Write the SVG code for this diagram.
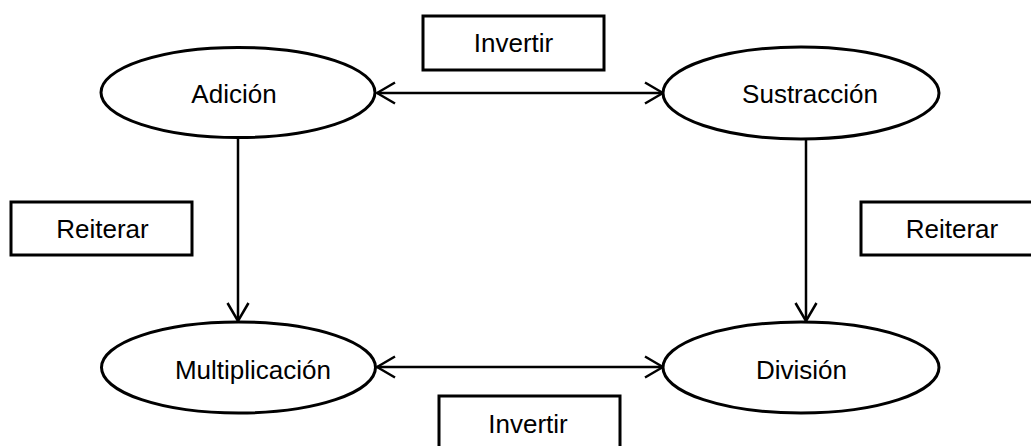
<svg xmlns="http://www.w3.org/2000/svg" width="1031" height="446" viewBox="0 0 1031 446">
<defs>
<style>
.node ellipse{fill:#fff;stroke:#000;stroke-width:3}
.lab rect{fill:#fff;stroke:#000;stroke-width:3}
text{font-family:"Liberation Sans",Arial,sans-serif;font-size:26px;fill:#000;text-anchor:middle}
.conn line{stroke:#000;stroke-width:2.5;fill:none}
</style>
<marker id="ah" viewBox="0 0 20 24" refX="19" refY="12" markerWidth="20" markerHeight="24" markerUnits="userSpaceOnUse" orient="auto-start-reverse">
<path d="M1,1.5 L19,12 L1,22.5" fill="none" stroke="#000" stroke-width="2.5" stroke-linejoin="miter"/>
</marker>
</defs>
<rect width="1031" height="446" fill="#fff"/>
<g class="conn" id="connectors">
<line x1="377" y1="93" x2="663" y2="93" marker-start="url(#ah)" marker-end="url(#ah)"/>
<line x1="377" y1="367" x2="663" y2="367" marker-start="url(#ah)" marker-end="url(#ah)"/>
<line x1="238" y1="138" x2="238" y2="321" marker-end="url(#ah)"/>
<line x1="806" y1="138" x2="806" y2="321" marker-end="url(#ah)"/>
</g>
<g class="node" id="adicion"><ellipse cx="238" cy="92.5" rx="137" ry="45"/><text x="234" y="103">Adición</text></g>
<g class="node" id="sustraccion"><ellipse cx="801" cy="93" rx="138" ry="46"/><text x="810" y="103">Sustracción</text></g>
<g class="node" id="multiplicacion"><ellipse cx="238.5" cy="367.5" rx="137" ry="45.5"/><text x="253" y="379">Multiplicación</text></g>
<g class="node" id="division"><ellipse cx="801" cy="367.5" rx="138" ry="45.5"/><text x="801.5" y="379">División</text></g>
<g class="lab" id="invertir-top"><rect x="423" y="16" width="181" height="54"/><text x="513.5" y="52">Invertir</text></g>
<g class="lab" id="invertir-bottom"><rect x="439" y="396" width="181" height="60"/><text x="528" y="433">Invertir</text></g>
<g class="lab" id="reiterar-left"><rect x="11" y="202" width="181" height="53"/><text x="102.5" y="238">Reiterar</text></g>
<g class="lab" id="reiterar-right"><rect x="861" y="202" width="181" height="53"/><text x="952" y="238">Reiterar</text></g>
</svg>
